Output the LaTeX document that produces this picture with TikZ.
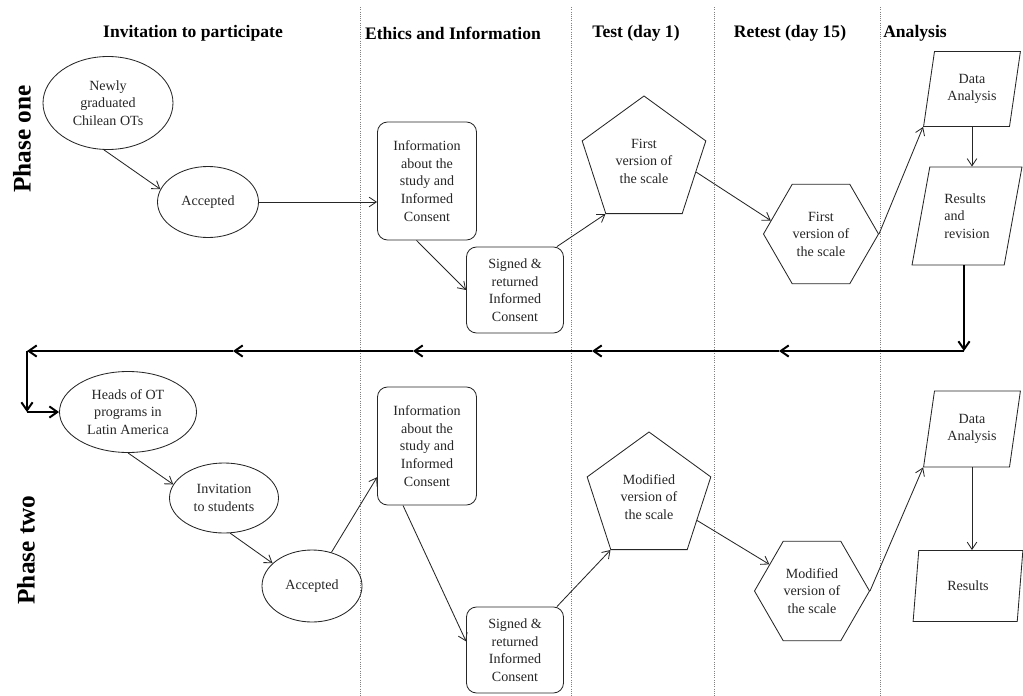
\documentclass[tikz,border=0pt]{standalone}
\usepackage{fontspec}
\setmainfont{Liberation Serif}
\usetikzlibrary{shapes.geometric, arrows.meta, calc}
\newcommand\flowfont{\fontsize{10}{12.5}\selectfont}

\begin{document}
\begin{tikzpicture}[x=0.25mm, y=-0.25mm, line width=0.6pt, draw=black!85, text=black!85,
  >={Straight Barb[length=1.8mm, width=2.4mm]},
  oval/.style = {draw, ellipse, inner sep=0pt, align=center, font=\flowfont},
  card/.style = {draw, rounded corners=2.5mm, inner sep=0pt, align=center, font=\flowfont,
    minimum width=24.75mm, minimum height=29.5mm},
  smallcard/.style = {card, minimum width=24.25mm, minimum height=21.5mm},
  penta/.style = {draw, regular polygon, regular polygon sides=5, inner sep=0pt,
    minimum size=32.5mm, align=center, font=\flowfont},
  hexa/.style = {draw, regular polygon, regular polygon sides=6, inner sep=0pt,
    minimum size=28.75mm, align=center, font=\flowfont},
  para/.style = {draw, trapezium, trapezium left angle=76.5, trapezium right angle=103.5,
    trapezium stretches=true, inner sep=0pt, minimum width=24.25mm, align=center, font=\flowfont},
  head/.style = {font=\fontsize{12.5}{15}\selectfont\bfseries, text=black},
  phase/.style = {font=\fontsize{18}{20}\selectfont\bfseries, text=black, rotate=90},
  divider/.style = {draw=black!50, densely dotted, line width=0.6pt},
  back/.style = {line width=1.4pt, draw=black, -{Straight Barb[length=2mm, width=2.8mm]}}]
\useasboundingbox (0,0) rectangle (1023,696);

\foreach \x in {360, 571, 714, 880}{
\draw[divider] (\x,7) -- (\x,696);
}

\node[head] (h1) at (193,33) {Invitation to participate};
\node[head] (h2) at (453,33) {Ethics and Information};
\node[head] (h3) at (636,33) {Test (day 1)};
\node[head] (h4) at (790,33) {Retest (day 15)};
\node[head] (h5) at (915,33) {Analysis};
\node[phase] (p1) at (22,139) {Phase one};
\node[phase] (p2) at (26,550) {Phase two};

\node[oval, minimum width=32.5mm, minimum height=23.25mm] (newly) at (108,103) {Newly\\graduated\\Chilean OTs};
\node[oval, minimum width=25.25mm, minimum height=17.75mm] (acc1) at (208,202) {Accepted};
\node[card] (info1) at (427,181) {Information\\about the\\study and\\Informed\\Consent};
\node[smallcard] (sign1) at (515,290) {Signed \&\\returned\\Informed\\Consent};
\node[penta] (pent1) at (644,161) {First\\version of\\the scale};
\node[hexa] (hex1) at (821,234) {First\\version of\\the scale};
\node[para, minimum height=18.75mm] (da1) at (972,89) {Data\\Analysis};
\node[para, minimum width=27.5mm, minimum height=24.5mm, align=left] (res1) at (967,216) {Results\\and\\revision};

\node[oval, minimum width=34.25mm, minimum height=20.25mm] (heads) at (128,412) {Heads of OT\\programs in\\Latin America};
\node[oval, minimum width=27.25mm, minimum height=17.5mm] (inv) at (224,498) {Invitation\\to students};
\node[oval, minimum width=25mm, minimum height=18mm] (acc2) at (312,586) {Accepted};
\node[card] (info2) at (427,446) {Information\\about the\\study and\\Informed\\Consent};
\node[smallcard] (sign2) at (515,650) {Signed \&\\returned\\Informed\\Consent};
\node[penta] (pent2) at (649,497) {Modified\\version of\\the scale};
\node[hexa] (hex2) at (812,591) {Modified\\version of\\the scale};
\node[para, minimum height=19mm] (da2) at (972,429) {Data\\Analysis};
\node[para, minimum width=27.5mm, minimum height=17.75mm] (res2) at (968,586) {Results};

\foreach \i/\j in {
newly.265/acc1.165, info1.260/sign1.west, sign1.46/pent1.corner 3, pent1.-12/hex1.165,
hex1.east/da1.bottom left corner, heads.south/inv.165, inv.-80/acc2.150, acc2.60/info2.212,
info2.248/sign2.170, sign2.46/pent2.corner 3, pent2.-26/hex2.148, hex2.east/da2.bottom left corner}{
\draw[->] (\i) -- (\j);
}
\draw[->] (acc1) -- (acc1 -| info1.west);
\draw[->] (da1.south) -- (da1.south |- res1.north);
\draw[->] (da2.south) -- (da2.south |- res2.north);

\coordinate (turn) at (964,351);
\coordinate (m1) at (779,351);
\coordinate (m2) at (592,351);
\coordinate (m3) at (413,351);
\coordinate (m4) at (233,351);
\coordinate (corner) at (27,351);
\coordinate (drop) at (27,412);
\draw[back] (turn |- res1.south) -- (turn);
\foreach \i/\j in {turn/m1, m1/m2, m2/m3, m3/m4, m4/corner, corner/drop, drop/heads.west}{
\draw[back] (\i) -- (\j);
}
\end{tikzpicture}
\end{document}
